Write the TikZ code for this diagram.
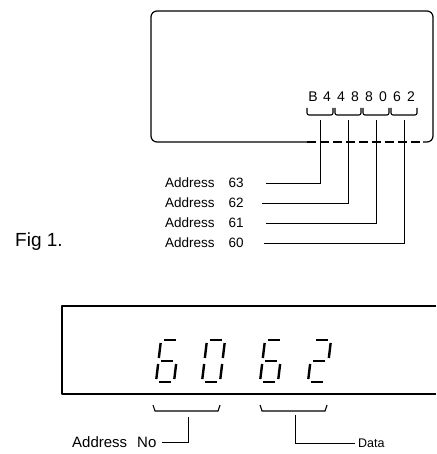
\documentclass[tikz,border=0pt]{standalone}
\usepackage{fontspec}
\setmainfont{Liberation Sans}
\usepackage{tikz}
\usetikzlibrary{positioning}

% seven segment digit: #1 = top left corner, #2 = lit segments
\newcommand\sevenseg[2]{%
  \begin{scope}[shift={#1}, xslant=0.12]
    \foreach \s in {#2} {
      \if\s a\draw[segment] (3,0) -- (15,0);\fi
      \if\s b\draw[segment] (18,3) -- (18,18);\fi
      \if\s c\draw[segment] (18,24) -- (18,39);\fi
      \if\s d\draw[segment] (3,42) -- (15,42);\fi
      \if\s e\draw[segment] (0,24) -- (0,39);\fi
      \if\s f\draw[segment] (0,3) -- (0,18);\fi
      \if\s g\draw[segment] (3,21) -- (15,21);\fi
    }
  \end{scope}}

\begin{document}
\begin{tikzpicture}[
    x=1pt, y=-1pt,
    panel/.style={line width=1.2pt, line join=round},
    lead/.style={line width=0.9pt},
    brace/.style={line width=1.1pt, rounded corners=2pt},
    segment/.style={line width=2.4pt},
    lbl/.style={anchor=west, inner sep=0pt, font=\fontsize{13.5}{14}\selectfont},
    chr/.style={anchor=base, inner sep=0pt, font=\fontsize{14}{14}\selectfont}
]
\useasboundingbox (0,0) rectangle (436,454);

% Top display
\draw[panel, rounded corners=6pt] (307,142) -- (151,142) -- (151,11)
    -- (433,11) -- (433,142) -- (423,142);
\draw[panel, dash pattern=on 9pt off 4pt] (307,142) -- (423,142);

\foreach \c [count=\i from 0] in {B,4,4,8,8,0,6,2}
  \node[chr] (ch\i) at ({313+14*\i},102) {\c};

% Brackets under the pairs
\foreach \k in {0,1,2,3} {
  \draw[brace] ({307+28*\k},108) -- ({307+28*\k},115)
      -- ({333+28*\k},115) -- ({333+28*\k},108);
  \coordinate (t\k) at ({320+28*\k},120);
}

% Addresses
\node[lbl] (a63) at (165,183) {Address\hspace{14pt}63};
\node[lbl] (a62) at (165,203) {Address\hspace{14pt}62};
\node[lbl] (a61) at (165,223) {Address\hspace{14pt}61};
\node[lbl] (a60) at (165,243) {Address\hspace{14pt}60};

\draw[lead, shorten <=22pt] (a63) -| (t0);
\draw[lead, shorten <=18pt] (a62) -| (t1);
\draw[lead, shorten <=22pt] (a61) -| (t2);
\draw[lead, shorten <=20pt] (a60) -| (t3);

\node[anchor=west, inner sep=0pt, font=\fontsize{19}{19}\selectfont] (fig) at (15,242) {Fig 1.};

% Bottom display
\draw[panel, line width=1.3pt] (436,306) -- (62,306) -- (62,394) -- (436,394);

\sevenseg{(161,340)}{a,f,g,e,c,d}
\sevenseg{(207,340)}{a,b,c,d,e,f}
\sevenseg{(265,340)}{a,f,g,e,c,d}
\sevenseg{(313,340)}{a,b,g,e,d}

\draw[brace, rounded corners=0pt] (153,405) -- (155,411) -- (218,411) -- (220,405);
\draw[brace, rounded corners=0pt] (260,405) -- (262,411) -- (325,411) -- (327,405);
\coordinate (adrtop) at (188,417);
\coordinate (datatop) at (295,415);

\node[lbl, font=\fontsize{15}{15}\selectfont] (adrno) at (72,442) {Address\hspace{10pt}No};
\node[lbl, font=\fontsize{12.5}{13}\selectfont] (data) at (358,443) {Data};

\draw[lead, shorten <=5pt] (adrno) -| (adrtop);
\draw[lead, shorten >=3pt] (datatop) |- (data);
\end{tikzpicture}
\end{document}
